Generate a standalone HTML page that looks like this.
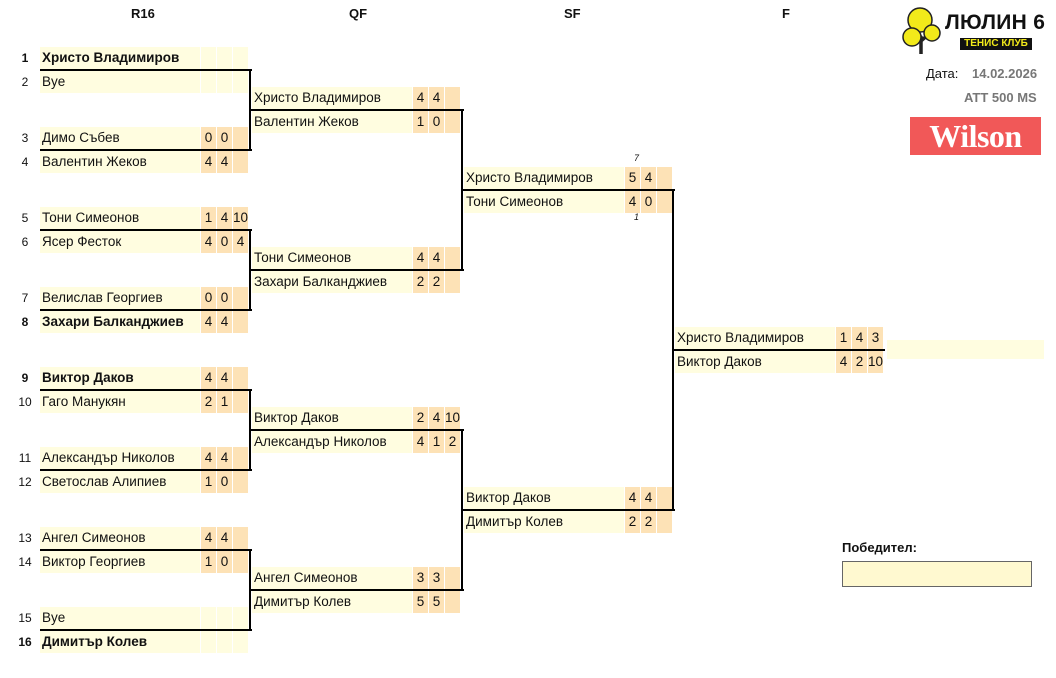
<!DOCTYPE html>
<html><head><meta charset="utf-8"><style>
*{margin:0;padding:0;box-sizing:border-box}
body{width:1056px;height:678px;background:#fff;position:relative;overflow:hidden;font-family:"Liberation Sans Narrow","Liberation Sans",sans-serif;font-size:13px;color:#111}
.r{position:absolute;height:22px;display:flex;line-height:22px}
.n{width:160px;background:#fffde0;padding-left:2px;white-space:nowrap;overflow:hidden;font-size:13.5px}
.s{width:15px;margin-left:1px;background:#fde2b6;text-align:center;font-size:13.5px}
.e{background:#fffde0}
.b{font-weight:bold}
.no{position:absolute;width:20px;left:15px;text-align:center;font-size:12px;line-height:22px;height:22px}
.h{position:absolute;background:#000;height:2px}
.v{position:absolute;background:#000;width:2px}
.hd{position:absolute;top:6px;font-weight:bold;font-family:"Liberation Sans",sans-serif;font-size:13px}
.sm{position:absolute;font-size:9px;font-style:italic}
</style></head><body>
<div class="hd" style="left:131px">R16</div>
<div class="hd" style="left:349px">QF</div>
<div class="hd" style="left:564px">SF</div>
<div class="hd" style="left:782px">F</div>

<div class="no b" style="top:47px">1</div><div class="r" style="left:40px;top:47px"><div class="n b">Христо Владимиров</div><div class="s e"></div><div class="s e"></div><div class="s e"></div></div>
<div class="no" style="top:71px">2</div><div class="r" style="left:40px;top:71px"><div class="n">Bye</div><div class="s e"></div><div class="s e"></div><div class="s e"></div></div>
<div class="no" style="top:127px">3</div><div class="r" style="left:40px;top:127px"><div class="n">Димо Събев</div><div class="s">0</div><div class="s">0</div><div class="s"></div></div>
<div class="no" style="top:151px">4</div><div class="r" style="left:40px;top:151px"><div class="n">Валентин Жеков</div><div class="s">4</div><div class="s">4</div><div class="s"></div></div>
<div class="no" style="top:207px">5</div><div class="r" style="left:40px;top:207px"><div class="n">Тони Симеонов</div><div class="s">1</div><div class="s">4</div><div class="s">10</div></div>
<div class="no" style="top:231px">6</div><div class="r" style="left:40px;top:231px"><div class="n">Ясер Фесток</div><div class="s">4</div><div class="s">0</div><div class="s">4</div></div>
<div class="no" style="top:287px">7</div><div class="r" style="left:40px;top:287px"><div class="n">Велислав Георгиев</div><div class="s">0</div><div class="s">0</div><div class="s"></div></div>
<div class="no b" style="top:311px">8</div><div class="r" style="left:40px;top:311px"><div class="n b">Захари Балканджиев</div><div class="s">4</div><div class="s">4</div><div class="s"></div></div>
<div class="no b" style="top:367px">9</div><div class="r" style="left:40px;top:367px"><div class="n b">Виктор Даков</div><div class="s">4</div><div class="s">4</div><div class="s"></div></div>
<div class="no" style="top:391px">10</div><div class="r" style="left:40px;top:391px"><div class="n">Гаго Манукян</div><div class="s">2</div><div class="s">1</div><div class="s"></div></div>
<div class="no" style="top:447px">11</div><div class="r" style="left:40px;top:447px"><div class="n">Александър Николов</div><div class="s">4</div><div class="s">4</div><div class="s"></div></div>
<div class="no" style="top:471px">12</div><div class="r" style="left:40px;top:471px"><div class="n">Светослав Алипиев</div><div class="s">1</div><div class="s">0</div><div class="s"></div></div>
<div class="no" style="top:527px">13</div><div class="r" style="left:40px;top:527px"><div class="n">Ангел Симеонов</div><div class="s">4</div><div class="s">4</div><div class="s"></div></div>
<div class="no" style="top:551px">14</div><div class="r" style="left:40px;top:551px"><div class="n">Виктор Георгиев</div><div class="s">1</div><div class="s">0</div><div class="s"></div></div>
<div class="no" style="top:607px">15</div><div class="r" style="left:40px;top:607px"><div class="n">Bye</div><div class="s e"></div><div class="s e"></div><div class="s e"></div></div>
<div class="no b" style="top:631px">16</div><div class="r" style="left:40px;top:631px"><div class="n b">Димитър Колев</div><div class="s e"></div><div class="s e"></div><div class="s e"></div></div>

<div class="r" style="left:252px;top:87px"><div class="n">Христо Владимиров</div><div class="s">4</div><div class="s">4</div><div class="s"></div></div>
<div class="r" style="left:252px;top:111px"><div class="n">Валентин Жеков</div><div class="s">1</div><div class="s">0</div><div class="s"></div></div>
<div class="r" style="left:252px;top:247px"><div class="n">Тони Симеонов</div><div class="s">4</div><div class="s">4</div><div class="s"></div></div>
<div class="r" style="left:252px;top:271px"><div class="n">Захари Балканджиев</div><div class="s">2</div><div class="s">2</div><div class="s"></div></div>
<div class="r" style="left:252px;top:407px"><div class="n">Виктор Даков</div><div class="s">2</div><div class="s">4</div><div class="s">10</div></div>
<div class="r" style="left:252px;top:431px"><div class="n">Александър Николов</div><div class="s">4</div><div class="s">1</div><div class="s">2</div></div>
<div class="r" style="left:252px;top:567px"><div class="n">Ангел Симеонов</div><div class="s">3</div><div class="s">3</div><div class="s"></div></div>
<div class="r" style="left:252px;top:591px"><div class="n">Димитър Колев</div><div class="s">5</div><div class="s">5</div><div class="s"></div></div>

<div class="r" style="left:464px;top:167px"><div class="n">Христо Владимиров</div><div class="s">5</div><div class="s">4</div><div class="s"></div></div>
<div class="r" style="left:464px;top:191px"><div class="n">Тони Симеонов</div><div class="s">4</div><div class="s">0</div><div class="s"></div></div>
<div class="sm" style="left:634px;top:153px">7</div>
<div class="sm" style="left:634px;top:212px">1</div>
<div class="r" style="left:464px;top:487px"><div class="n">Виктор Даков</div><div class="s">4</div><div class="s">4</div><div class="s"></div></div>
<div class="r" style="left:464px;top:511px"><div class="n">Димитър Колев</div><div class="s">2</div><div class="s">2</div><div class="s"></div></div>

<div class="r" style="left:675px;top:327px"><div class="n">Христо Владимиров</div><div class="s">1</div><div class="s">4</div><div class="s">3</div></div>
<div class="r" style="left:675px;top:351px"><div class="n">Виктор Даков</div><div class="s">4</div><div class="s">2</div><div class="s">10</div></div>
<div style="position:absolute;left:887px;top:340px;width:157px;height:19px;background:#fffde0"></div>

<div class="h" style="left:40px;top:69px;width:212px"></div>
<div class="h" style="left:40px;top:149px;width:212px"></div>
<div class="v" style="left:249px;top:69px;height:82px"></div>
<div class="h" style="left:40px;top:229px;width:212px"></div>
<div class="h" style="left:40px;top:309px;width:212px"></div>
<div class="v" style="left:249px;top:229px;height:82px"></div>
<div class="h" style="left:40px;top:389px;width:212px"></div>
<div class="h" style="left:40px;top:469px;width:212px"></div>
<div class="v" style="left:249px;top:389px;height:82px"></div>
<div class="h" style="left:40px;top:549px;width:212px"></div>
<div class="h" style="left:40px;top:629px;width:212px"></div>
<div class="v" style="left:249px;top:549px;height:82px"></div>
<div class="h" style="left:250px;top:109px;width:214px"></div>
<div class="h" style="left:250px;top:269px;width:214px"></div>
<div class="v" style="left:461px;top:109px;height:162px"></div>
<div class="h" style="left:250px;top:429px;width:214px"></div>
<div class="h" style="left:250px;top:589px;width:214px"></div>
<div class="v" style="left:461px;top:429px;height:162px"></div>
<div class="h" style="left:462px;top:189px;width:213px"></div>
<div class="h" style="left:462px;top:509px;width:213px"></div>
<div class="v" style="left:672px;top:189px;height:322px"></div>
<div class="h" style="left:673px;top:349px;width:212px"></div>

<svg style="position:absolute;left:900px;top:5px" width="46" height="50" viewBox="0 0 46 50">
<path d="M21 49 L21 32 L14 26 M21 36 L30 28" stroke="#222" stroke-width="3.5" fill="none"/>
<circle cx="20" cy="15" r="12" fill="#f2ea1a" stroke="#222" stroke-width="1.5"/>
<circle cx="12" cy="32" r="9" fill="#f2ea1a" stroke="#222" stroke-width="1.5"/>
<circle cx="32" cy="28" r="8" fill="#f2ea1a" stroke="#222" stroke-width="1.5"/>
</svg>
<div style="position:absolute;left:945px;top:11px;font-family:'Liberation Sans',sans-serif;font-weight:bold;font-size:21px;letter-spacing:0.3px">ЛЮЛИН 6</div>
<div style="position:absolute;left:960px;top:38px;width:72px;height:12px;background:#111;color:#f2ea1a;font-family:'Liberation Sans',sans-serif;font-weight:bold;font-size:10px;line-height:12px;text-align:center">ТЕНИС КЛУБ</div>
<div style="position:absolute;left:926px;top:66px;font-family:'Liberation Sans',sans-serif;font-size:13px">Дата:</div>
<div style="position:absolute;left:972px;top:66px;font-family:'Liberation Sans',sans-serif;font-size:13px;font-weight:bold;color:#777">14.02.2026</div>
<div style="position:absolute;left:964px;top:90px;font-family:'Liberation Sans',sans-serif;font-size:13px;font-weight:bold;color:#777">ATT 500 MS</div>
<div style="position:absolute;left:910px;top:117px;width:131px;height:38px;background:#f15858;color:#fff;font-family:'Liberation Serif',serif;font-weight:bold;font-size:32px;line-height:38px;text-align:center;letter-spacing:-0.5px">Wilson</div>

<div style="position:absolute;left:842px;top:540px;font-family:'Liberation Sans',sans-serif;font-weight:bold;font-size:13px">Победител:</div>
<div style="position:absolute;left:842px;top:561px;width:190px;height:26px;background:#fff9d0;border:1px solid #666"></div>
</body></html>
